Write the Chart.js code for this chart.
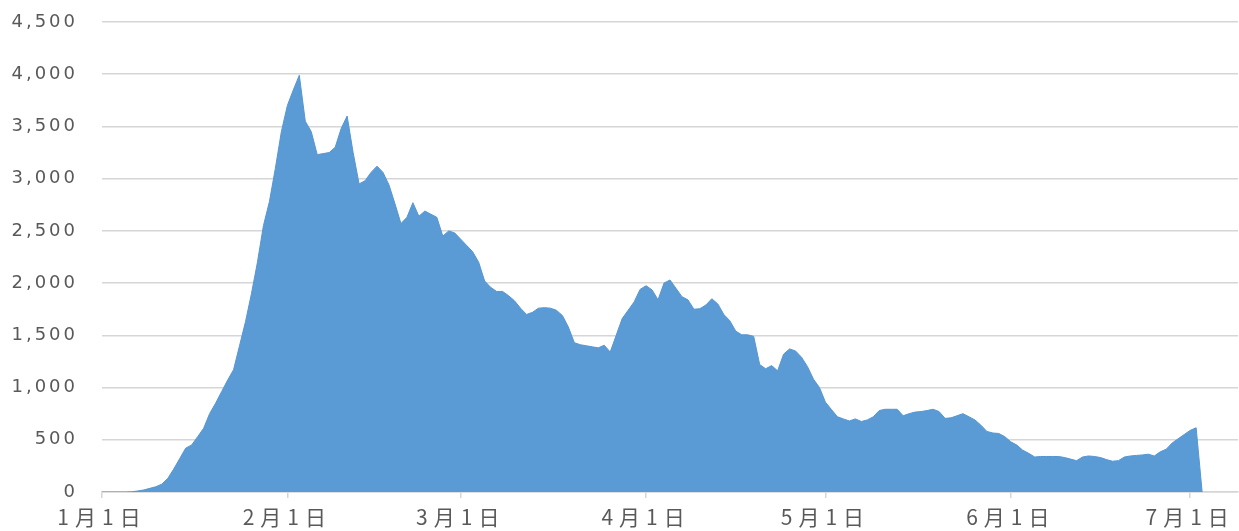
<!DOCTYPE html>
<html>
<head>
<meta charset="utf-8">
<script src="https://cdn.jsdelivr.net/npm/chart.js@4.4.1/dist/chart.umd.min.js"></script>
<style>
html,body{margin:0;padding:0;background:#ffffff;}
canvas{display:block;}
</style>
</head>
<body>
<canvas id="c" width="1239" height="531"></canvas>
<script>
// ---- data ----
const axisDays = 191; // 2020-01-01 .. 2020-07-09 on the axis
const monthTickLabels = ['1月1日', '2月1日', '3月1日', '4月1日', '5月1日', '6月1日', '7月1日'];
const yTickValues = [0, 500, 1000, 1500, 2000, 2500, 3000, 3500, 4000, 4500];
// daily values from 1月1日
const dailyValues = [
  0, 0, 0, 0, 0, 2, 10, 20, 35, 50,                       // Jan 1-10
  75, 130, 220, 320, 420, 450, 530, 610, 750, 850,          // Jan 11-20
  960, 1070, 1170, 1400, 1630, 1900, 2200, 2550, 2780, 3100, // Jan 21-30
  3450,                                                    // Jan 31
  3700, 3850, 3990, 3550, 3450, 3230, 3240, 3250, 3300, 3480, // Feb 1-10
  3600, 3250, 2950, 2980, 3060, 3120, 3060, 2940, 2760, 2570, // Feb 11-20
  2630, 2770, 2640, 2690, 2660, 2630, 2450, 2500, 2480,      // Feb 21-29
  2420, 2360, 2300, 2200, 2020, 1960, 1920, 1920, 1880, 1830, // Mar 1-10
  1760, 1700, 1720, 1760, 1765, 1760, 1740, 1690, 1580, 1430, // Mar 11-20
  1410, 1400, 1390, 1380, 1405, 1340, 1500, 1660, 1740, 1820, // Mar 21-30
  1940,                                                    // Mar 31
  1975, 1935, 1840, 2000, 2030, 1950, 1870, 1840, 1750, 1755, // Apr 1-10
  1790, 1850, 1800, 1700, 1640, 1540, 1505, 1505, 1490, 1220, // Apr 11-20
  1180, 1210, 1160, 1320, 1370, 1350, 1290, 1200, 1080, 1000, // Apr 21-30
  860, 790, 720, 700, 680, 700, 675, 690, 720, 780,          // May 1-10
  792, 792, 792, 730, 750, 765, 770, 780, 792, 770,          // May 11-20
  705, 710, 730, 750, 720, 690, 640, 580, 565, 560,          // May 21-30
  530,                                                     // May 31
  480, 450, 400, 370, 335, 340, 340, 340, 340, 330,          // Jun 1-10
  315, 300, 335, 345, 340, 330, 310, 295, 300, 335,          // Jun 11-20
  345, 350, 355, 362, 345, 385, 410, 470, 510, 550,          // Jun 21-30
  590, 615, 0                                              // Jul 1-3
];

// ---- categories (one per day) ----
const categories = [];
for (let i = 0; i < axisDays; i++) {
  const d = new Date(2020, 0, 1 + i);
  categories.push((d.getMonth() + 1) + '月' + d.getDate() + '日');
}
const isMonthStart = (i) => monthTickLabels.includes(categories[i]);

const labelColor = '#595959';
const gridColor = '#D6D6D6';

function withSpacing(scale, spacing) {
  if (scale._spacingPatched) return;
  const orig = scale.drawLabels.bind(scale);
  scale.drawLabels = function (area) {
    const ctx = this.ctx;
    const prev = ctx.letterSpacing;
    ctx.letterSpacing = spacing;
    orig(area);
    ctx.letterSpacing = prev || '0px';
  };
  scale._spacingPatched = true;
}

new Chart(document.getElementById('c'), {
  type: 'line',
  data: {
    labels: categories,
    datasets: [{
      data: dailyValues,
      fill: 'origin',
      backgroundColor: '#5B9BD5',
      borderColor: '#5596D2',
      borderWidth: 1,
      pointRadius: 0,
      tension: 0
    }]
  },
  options: {
    responsive: false,
    animation: false,
    events: [],
    layout: { padding: { top: 22, right: 1, bottom: 0, left: 0 } },
    plugins: { legend: { display: false }, tooltip: { enabled: false } },
    scales: {
      x: {
        type: 'category',
        offset: false,
        border: { display: true, color: gridColor, width: 1.5 },
        grid: {
          drawOnChartArea: false,
          drawTicks: true,
          tickLength: 6,
          lineWidth: 1.5,
          color: (ctx) => isMonthStart(ctx.index) ? gridColor : 'rgba(0,0,0,0)'
        },
        ticks: {
          autoSkip: false,
          maxRotation: 0,
          minRotation: 0,
          padding: 6,
          color: labelColor,
          font: { family: '"Noto Sans CJK SC", "DejaVu Sans", sans-serif', size: 21 },
          callback: function (value, index) { return isMonthStart(index) ? categories[index] : ''; }
        },
        afterFit: (scale) => {
          scale.height = 39;
          scale.paddingLeft = 0;
          scale.paddingRight = 0;
          withSpacing(scale, '6px');
        }
      },
      y: {
        min: 0,
        max: 4500,
        border: { display: false },
        grid: { color: gridColor, lineWidth: 1.5, drawTicks: false },
        afterBuildTicks: (scale) => { scale.ticks = yTickValues.map(v => ({ value: v })); },
        ticks: {
          padding: 24,
          color: labelColor,
          font: { family: '"DejaVu Sans", sans-serif', size: 18 },
          callback: (v) => Number(v).toLocaleString('en-US')
        },
        afterFit: (scale) => {
          scale.width = 102;
          scale.paddingTop = 0;
          scale.paddingBottom = 0;
          withSpacing(scale, '3px');
        }
      }
    }
  }
});
</script>
</body>
</html>
